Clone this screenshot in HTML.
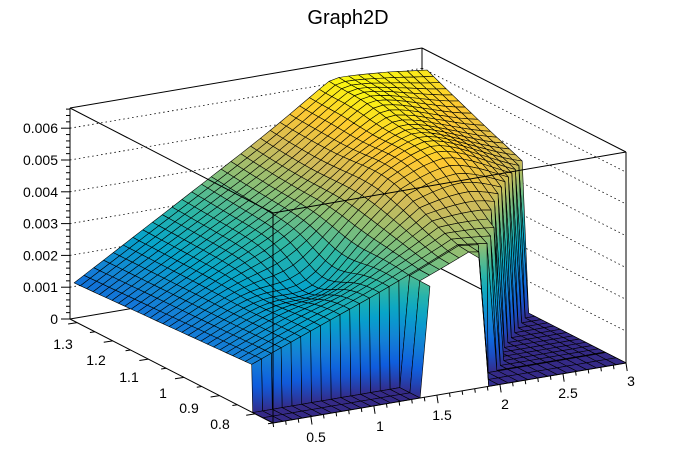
<!DOCTYPE html>
<html><head><meta charset="utf-8"><style>
html,body{margin:0;padding:0;background:#fff;}
svg{display:block;font-family:"Liberation Sans",sans-serif;}
</style></head><body>
<svg id="s" width="696" height="472" viewBox="0 0 696 472" xmlns="http://www.w3.org/2000/svg">
<rect width="696" height="472" fill="#fff"/>
<g id="back" stroke="#000" fill="none" stroke-width="1"></g>
<g id="surf" stroke="#000" stroke-width="0.6" stroke-linejoin="round"></g>
<g id="front" stroke="#000" fill="none" stroke-width="1"></g>
<g id="txt" font-size="14" fill="#000"></g>
<defs id="defs"></defs>
<text x="348" y="24" font-size="20" text-anchor="middle">Graph2D</text>
</svg>
<script>
(function(){
var NS="http://www.w3.org/2000/svg";
function P(u,v,z){return [273+353*u-203*v, 423-60*u-104*v-31.8*z];}
function el(tag,attrs,parent){var e=document.createElementNS(NS,tag);for(var k in attrs)e.setAttribute(k,attrs[k]);parent.appendChild(e);return e;}
var back=document.getElementById('back'),front=document.getElementById('front'),surf=document.getElementById('surf'),txt=document.getElementById('txt'),defs=document.getElementById('defs');
function line(g,a,b,extra){var o={x1:a[0],y1:a[1],x2:b[0],y2:b[1]};for(var k in extra)o[k]=extra[k];el('line',o,g);}
for(var z=1;z<=6;z++){
  var dy=31.8*z;
  line(back,[70,319-dy],[422,259-dy],{'stroke-dasharray':'1.5,3','stroke-width':0.8});
  line(back,[422,259-dy],[626,363-dy],{'stroke-dasharray':'1.5,3','stroke-width':0.8});
}
line(back,[70,108],[422,48]);line(back,[422,48],[626,152]);line(back,[422,48],[422,259]);
line(back,[70,319],[422,259]);line(back,[422,259],[626,363]);line(back,[70,108],[70,319]);line(back,[626,152],[626,363]);
var st=[[0,.2082,.1664,.5293],[.125,.0592,.3599,.8684],[.25,.0780,.5041,.8385],[.375,.0232,.6419,.7914],[.5,.1802,.7178,.6425],[.625,.5301,.7492,.4662],[.75,.8186,.7328,.3499],[.875,.9956,.7862,.1968],[1,.9764,.9832,.0539]];
function col(z){var t=Math.max(0,Math.min(1,z/6.3));for(var i=0;i<st.length-1;i++){if(t<=st[i+1][0]){var f=(t-st[i][0])/(st[i+1][0]-st[i][0]);var r=st[i][1]+f*(st[i+1][1]-st[i][1]),g=st[i][2]+f*(st[i+1][2]-st[i][2]),b=st[i][3]+f*(st[i+1][3]-st[i][3]);return 'rgb('+Math.round(r*255)+','+Math.round(g*255)+','+Math.round(b*255)+')';}}return 'rgb(249,251,14)';}
function frontZ(u){ if(u<=0.583) return 1.5+4.4*u; return 4.07-(u-0.583)*(0.8/0.417);}
function backZ(u){ return Math.min(6.1,1.2+6.7*u) - (u>0.9?(u-0.9)*1.0:0);}
function top(u,v){var t=Math.max(0,Math.min(1,(v-0.1)/0.88));var z=frontZ(u)*(1-t)+backZ(u)*t;
  z-=0.7*Math.exp(-((u-0.33)*(u-0.33)/0.012+(v-0.38)*(v-0.38)/0.02));
  z+=1.0*Math.exp(-((u-0.72)*(u-0.72)/0.04+(v-0.45)*(v-0.45)/0.06));
  z+=0.4*Math.exp(-((u-0.75)*(u-0.75)/0.02+(v-0.8)*(v-0.8)/0.03));
  return z;}
var NU=36;var vs=[0,0.05,0.1,0.105];var NR=28;for(var j=1;j<=NR;j++)vs.push(0.105+j*(0.98-0.105)/NR);
function Z(i,j){var u=i/NU,v=vs[j];
  if(i<16 && j<=2) return 0;
  if(u>0.59 && v<(u-0.583)*1.2) return 0;
  return top(u,v);}
var cells=[];
for(var i=0;i<NU;i++)for(var j=0;j<vs.length-1;j++){
  var uc=(i+0.5)/NU,vc=(vs[j]+vs[j+1])/2;
  if(i>=16&&i<21&&j<1) continue;
  cells.push({i:i,j:j,k:uc+vc});
}
cells.sort(function(a,b){return b.k-a.k;});
var gid=0;
cells.forEach(function(c){
  var i=c.i,j=c.j;
  var pts=[[i,j],[i+1,j],[i+1,j+1],[i,j+1]].map(function(q){var z=Z(q[0],q[1]);return {p:P(q[0]/NU,vs[q[1]],z),z:z};});
  var zs=pts.map(function(o){return o.z;});
  var lo=Math.min.apply(null,zs),hi=Math.max.apply(null,zs);
  var fill;
  if(hi-lo>0.8){
    var a=pts[zs.indexOf(lo)].p,b=pts[zs.indexOf(hi)].p;
    var id='g'+(gid++);
    var g=el('linearGradient',{id:id,gradientUnits:'userSpaceOnUse',x1:a[0],y1:a[1],x2:b[0],y2:b[1]},defs);
    for(var s=0;s<=8;s++){el('stop',{offset:s/8,'stop-color':col(lo+(hi-lo)*s/8)},g);}
    fill='url(#'+id+')';
  } else fill=col((zs[0]+zs[1]+zs[2]+zs[3])/4);
  el('polygon',{points:pts.map(function(o){return o.p[0].toFixed(1)+','+o.p[1].toFixed(1);}).join(' '),fill:fill},surf);
});
line(front,[70,108],[273,213]);line(front,[273,213],[626,152]);line(front,[273,213],[273,423]);
line(front,[273,423],[626,363]);line(front,[70,319],[273,423]);
for(var k=0;k<=33;k++){var y=319-31.8*k/5;if(y<108)break;line(front,[k%5==0?61:66,y],[70,y]);}
for(var z=0;z<=6;z++){var t=el('text',{x:58,y:319-31.8*z+5,'text-anchor':'end'},txt);t.textContent=z==0?'0':'0.00'+z;}
for(var k=0;k<=28;k++){var u=k/28;var p=P(u,0,0);var L=((k+2)%5==0)?8:4;line(front,[p[0],p[1]],[p[0]+L*0.15,p[1]+L]);}
var xl=[['0.5',316,442],['1',380,431],['1.5',442,420],['2',505,409],['2.5',568,398],['3',631,386]];
xl.forEach(function(a){var t=el('text',{x:a[1],y:a[2],'text-anchor':'middle'},txt);t.textContent=a[0];});
for(var k=0;k<=11;k++){var y=0.75+k*0.05;var v=(y-0.75)/0.57;var p=P(0,v,0);var L=(k%2==1)?9:5;line(front,[p[0],p[1]],[p[0]-L,p[1]+L*0.15]);}
var yl=[['1.3',63,349],['1.2',96,365],['1.1',129,382],['1',163,398],['0.9',189,413],['0.8',220,429]];
yl.forEach(function(a){var t=el('text',{x:a[1],y:a[2],'text-anchor':'middle'},txt);t.textContent=a[0];});
})();
</script>
</body></html>
